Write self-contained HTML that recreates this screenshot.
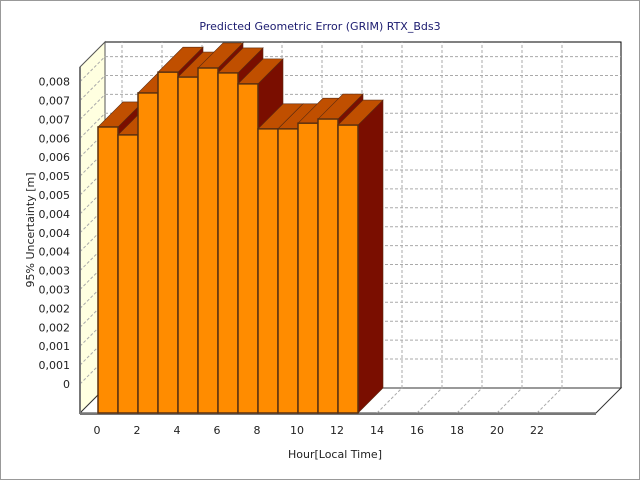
<!DOCTYPE html>
<html><head><meta charset="utf-8"><style>
body{margin:0;background:#fff}
svg text{font-family:"DejaVu Sans","Liberation Sans",sans-serif}
</style></head><body>
<svg id="chart" width="640" height="480" xmlns="http://www.w3.org/2000/svg">
<rect x="0.5" y="0.5" width="639" height="479" fill="#fff" stroke="#999"/>
<text x="320" y="30" text-anchor="middle" font-size="11" fill="#1a1a6e">Predicted Geometric Error (GRIM) RTX_Bds3</text>
<g id="plot"></g>
<text transform="translate(34,230) rotate(-90)" text-anchor="middle" font-size="11" fill="#222">95% Uncertainty [m]</text>
<text x="335" y="458" text-anchor="middle" font-size="11" fill="#222">Hour[Local Time]</text>
</svg>
<script>
const hours=[0,1,2,3,4,5,6,7,8,9,10,11,12];
const values=[0.00680,0.00659,0.00770,0.00825,0.00812,0.00836,0.00823,0.00794,0.00675,0.00675,0.00690,0.00701,0.00685];
const yTicks=[0,0.0005,0.001,0.0015,0.002,0.0025,0.003,0.0035,0.004,0.0045,0.005,0.0055,0.006,0.0065,0.007,0.0075,0.008];
const xTicks=[0,2,4,6,8,10,12,14,16,18,20,22];
const NS="http://www.w3.org/2000/svg";
const g=document.getElementById('plot');
const D=25, FL=80, FR=596, FB=413, BT=42;
function yS(v){return 384-v*37800;}
function xS(h){return 98+20*h;}
function el(t,a,p){const e=document.createElementNS(NS,t);for(const k in a)e.setAttribute(k,a[k]);(p||g).appendChild(e);return e;}
// back wall
let w=el('rect',{x:FL+D,y:BT,width:FR-FL,height:FB-D-BT,fill:'#fff',stroke:'#000'});

// left wall
let lw=el('polygon',{points:`${FL},${FB} ${FL},${BT+D} ${FL+D},${BT} ${FL+D},${FB-D}`,fill:'#ffffe0',stroke:'#555'});

// floor
let fl=el('polygon',{points:`${FL},${FB} ${FR},${FB} ${FR+D},${FB-D} ${FL+D},${FB-D}`,fill:'#fff',stroke:'#333'});

// y grid & labels
yTicks.forEach(v=>{const y=yS(v);
 const gl=el('line',{x1:FL,y1:y,x2:FL+D,y2:y-D,stroke:'#aaa','stroke-dasharray':'3,2'});
 
 const bl=el('line',{x1:FL+D,y1:y-D,x2:FR+D,y2:y-D,stroke:'#aaa','stroke-dasharray':'3,2'});
 
 const t=el('text',{x:70,y:y+4,'text-anchor':'end','font-size':'11',fill:'#222'});
 t.textContent=v.toFixed(3).replace('.',',').replace(/^0,000$/,'0');
 
});
// x grid & labels
xTicks.forEach(h=>{const x=xS(h)-1;
 const fg=el('line',{x1:x,y1:FB,x2:x+D,y2:FB-D,stroke:'#aaa','stroke-dasharray':'3,2'});
 
 const vg=el('line',{x1:x+D,y1:FB-D,x2:x+D,y2:BT,stroke:'#aaa','stroke-dasharray':'3,2'});
 
 const t=el('text',{x:x,y:434,'text-anchor':'middle','font-size':'11',fill:'#222'});
 t.textContent=h;
 
});
el('line',{x1:FL,y1:FB+1,x2:FR,y2:FB+1,stroke:'#777','stroke-width':2});
el('line',{x1:FL,y1:FB,x2:FL,y2:BT+D,stroke:'#777','stroke-width':2});
// bars
hours.forEach((h,i)=>{const x0=xS(h),x1=x0+20,yt=yS(values[i]);
 const s=el('polygon',{points:`${x1},${FB} ${x1},${yt} ${x1+D},${yt-D} ${x1+D},${FB-D}`,fill:'#7a0e00',stroke:'#5a2a10','stroke-width':0.6});
 
 const tp=el('polygon',{points:`${x0},${yt} ${x1},${yt} ${x1+D},${yt-D} ${x0+D},${yt-D}`,fill:'#c04f00',stroke:'#5a2a10','stroke-width':0.6});
 
 const f=el('rect',{x:x0,y:yt,width:20,height:FB-yt,fill:'#ff8c00',stroke:'#5a3010','stroke-width':1.5});
 
});
</script>
</body></html>
